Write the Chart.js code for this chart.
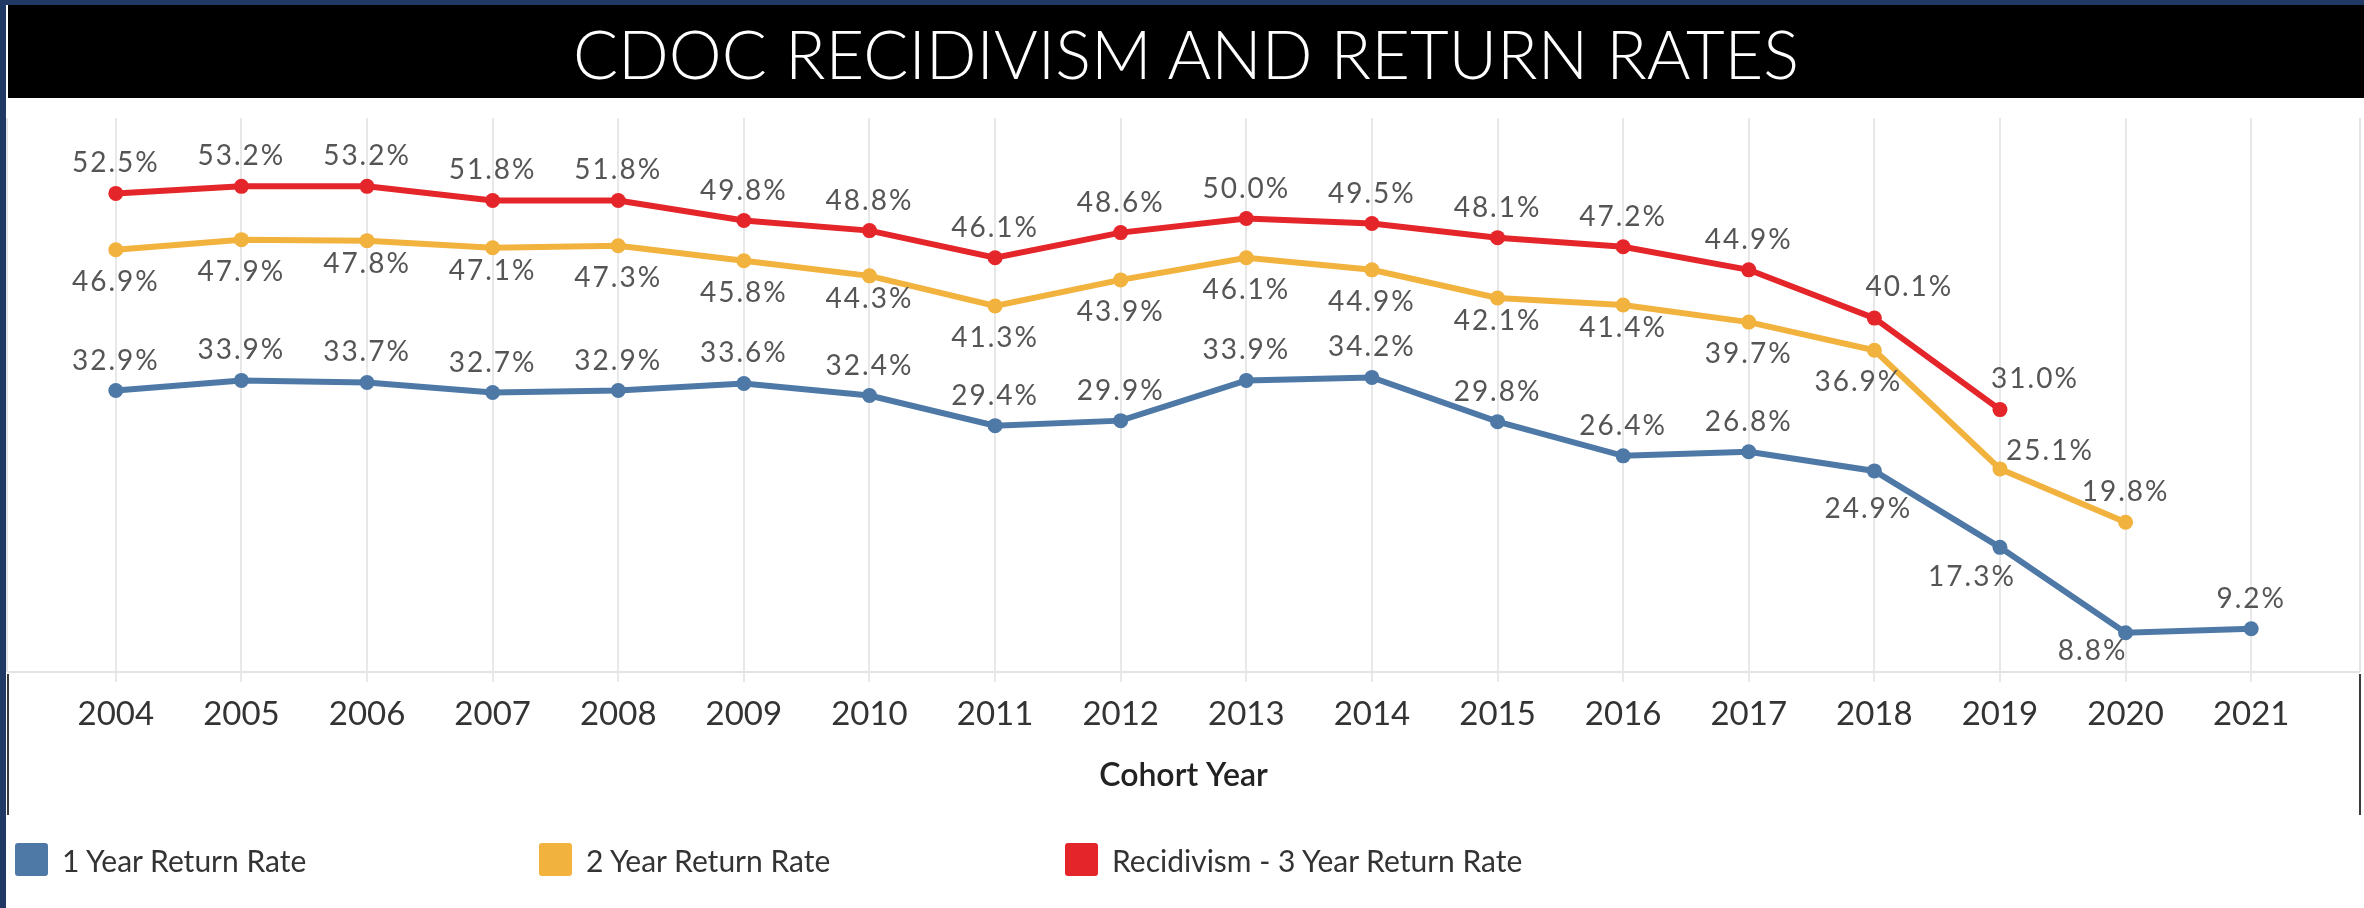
<!DOCTYPE html>
<html>
<head>
<meta charset="utf-8">
<title>CDOC Recidivism and Return Rates</title>
<script src="https://cdn.jsdelivr.net/npm/chart.js@4.4.1/dist/chart.umd.min.js"></script>
<style>
  body { margin: 0; width: 2364px; height: 908px; position: relative; overflow: hidden; background: #fff; font-family: Lato, sans-serif; }
  #navyLeft { position: absolute; left: 0; top: 0; width: 6px; height: 908px; background: #1f3864; }
  #navyTop { position: absolute; left: 0; top: 0; width: 2364px; height: 5px; background: #1f3864; }
  #titleBar { position: absolute; left: 8px; top: 5px; width: 2356px; height: 93px; background: #000; }
  #title { position: absolute; left: 0; top: 2px; width: 100%; text-align: center; color: #fff; font-weight: 300; font-size: 64px; line-height: 93px; white-space: nowrap; }
  #chart { position: absolute; left: 0; top: 0; }
  .legendItem { position: absolute; top: 843px; height: 33px; display: flex; align-items: center; font-size: 30px; color: #333; white-space: nowrap; }
  .legendBox { width: 33px; height: 33px; border-radius: 3px; margin-right: 14px; }
</style>
</head>
<body>
<canvas id="chart" width="2364" height="908"></canvas>
<div id="navyLeft"></div>
<div id="navyTop"></div>
<div id="titleBar"><div id="title">CDOC RECIDIVISM AND RETURN RATES</div></div>
<div id="legend"></div>
<script>
'use strict';

const years = [
  '2004','2005','2006','2007','2008','2009','2010','2011','2012',
  '2013','2014','2015','2016','2017','2018','2019','2020','2021'
];
const oneYearRate = [32.9, 33.9, 33.7, 32.7, 32.9, 33.6, 32.4, 29.4, 29.9, 33.9, 34.2, 29.8, 26.4, 26.8, 24.9, 17.3, 8.8, 9.2];
const twoYearRate = [46.9, 47.9, 47.8, 47.1, 47.3, 45.8, 44.3, 41.3, 43.9, 46.1, 44.9, 42.1, 41.4, 39.7, 36.9, 25.1, 19.8, null];
const threeYearRate = [52.5, 53.2, 53.2, 51.8, 51.8, 49.8, 48.8, 46.1, 48.6, 50.0, 49.5, 48.1, 47.2, 44.9, 40.1, 31.0, null, null];
const seriesNames = ['1 Year Return Rate', '2 Year Return Rate', 'Recidivism - 3 Year Return Rate'];

const colors = ['#4e79a7', '#f2b23e', '#e4262b'];

// where each value label sits next to its point (a = above, b = below ...)
const labelOffsets = {
  a: [0, -30], b: [0, 32], bn: [0, 23], bw: [-16, 32], bf: [-6, 38],
  ar: [35, -31], r: [50, -18], bl: [-28, 30], bll: [-33, 18]
};
const oneYearSpots = ['a','a','a','a','a','a','a','a','a','a','a','a','a','a','bf','bl','bll','a'];
const twoYearSpots = ['b','b','bn','bn','b','b','bn','b','b','b','b','bn','bn','b','bw','r','a',null];
const threeYearSpots = ['a','a','a','a','a','a','a','a','a','a','a','a','a','a','ar','ar',null,null];

Chart.defaults.font.family = 'Lato, sans-serif';

const pointLabels = {
  id: 'pointLabels',
  afterDatasetsDraw( chart ) {
    const ctx = chart.ctx;
    ctx.save();
    ctx.font = '28px Lato';
    ctx.letterSpacing = '2px';
    ctx.fillStyle = '#555';
    ctx.textAlign = 'center';
    ctx.textBaseline = 'middle';
    chart.data.datasets.forEach( ( ds, i ) => {
      const meta = chart.getDatasetMeta( i );
      meta.data.forEach( ( pt, j ) => {
        if ( ds.data[j] === null ) {
          return;
        }
        const off = labelOffsets[ds.labelSpots[j]];
        ctx.fillText( ds.data[j].toFixed( 1 ) + '%', pt.x + off[0], pt.y + off[1] );
      } );
    } );
    ctx.restore();
  }
};

const frameLines = {
  id: 'frameLines',
  beforeDatasetsDraw( chart ) {
    const { ctx, chartArea } = chart;
    ctx.save();
    ctx.lineWidth = 2;
    ctx.strokeStyle = '#e4e4e4';
    ctx.beginPath();
    ctx.moveTo( 7, chartArea.top );
    ctx.lineTo( 7, chartArea.bottom );
    ctx.moveTo( 2360, chartArea.top );
    ctx.lineTo( 2360, chartArea.bottom );
    ctx.moveTo( 7, chartArea.bottom );
    ctx.lineTo( 2360, chartArea.bottom );
    ctx.stroke();
    ctx.strokeStyle = '#3a3a3a';
    ctx.beginPath();
    ctx.moveTo( 8, chartArea.bottom + 2 );
    ctx.lineTo( 8, 815 );
    ctx.moveTo( 2360, chartArea.bottom + 2 );
    ctx.lineTo( 2360, 815 );
    ctx.stroke();
    ctx.restore();
  }
};

function makeSeries( name, values, spots, color ) {
  return {
    label: name,
    data: values,
    labelSpots: spots,
    borderColor: color,
    backgroundColor: color,
    borderWidth: 6,
    pointRadius: 7.5,
    pointBorderWidth: 0,
    pointBackgroundColor: color,
    tension: 0,
    spanGaps: false
  };
}

let ctx = document.getElementById( 'chart' ).getContext( '2d' );
let myChart = new Chart( ctx, {
  type: 'line',
  data: {
    labels: years,
    datasets: [
      makeSeries( seriesNames[0], oneYearRate, oneYearSpots, colors[0] ),
      makeSeries( seriesNames[1], twoYearRate, twoYearSpots, colors[1] ),
      makeSeries( seriesNames[2], threeYearRate, threeYearSpots, colors[2] )
    ]
  },
  options: {
    responsive: false,
    animation: false,
    layout: {
      padding: { left: 53, right: 50, top: 118, bottom: 97 }
    },
    plugins: {
      legend: { display: false },
      tooltip: { enabled: false }
    },
    scales: {
      x: {
        offset: true,
        grid: { offset: false, color: '#e8e8e8', lineWidth: 2, tickLength: 10 },
        border: { display: false },
        ticks: { color: '#333', font: { size: 33 }, padding: 13, maxRotation: 0, autoSkip: false },
        title: {
          display: true,
          text: 'Cohort Year',
          color: '#222',
          font: { size: 32, weight: '600' },
          padding: { top: 9, bottom: 16 }
        }
      },
      y: {
        display: false,
        min: 4.9,
        max: 60
      }
    }
  },
  plugins: [frameLines, pointLabels]
} );

// legend drawn as html boxes
const legendLeft = [15, 539, 1065];
const legend = document.getElementById( 'legend' );
for ( let i = 0; i < seriesNames.length; i++ ) {
  const item = document.createElement( 'div' );
  item.className = 'legendItem';
  item.style.left = legendLeft[i] + 'px';
  const box = document.createElement( 'div' );
  box.className = 'legendBox';
  box.style.background = colors[i];
  item.appendChild( box );
  item.appendChild( document.createTextNode( seriesNames[i] ) );
  legend.appendChild( item );
}

// stretch the title to the width it has in the picture
const title = document.getElementById( 'title' );
const probe = document.createElement( 'span' );
probe.textContent = title.textContent;
title.textContent = '';
title.appendChild( probe );
const w = probe.offsetWidth;
if ( w > 0 ) {
  title.style.fontSize = ( 64 * 1227 / w ).toFixed( 1 ) + 'px';
}
</script>
</body>
</html>
